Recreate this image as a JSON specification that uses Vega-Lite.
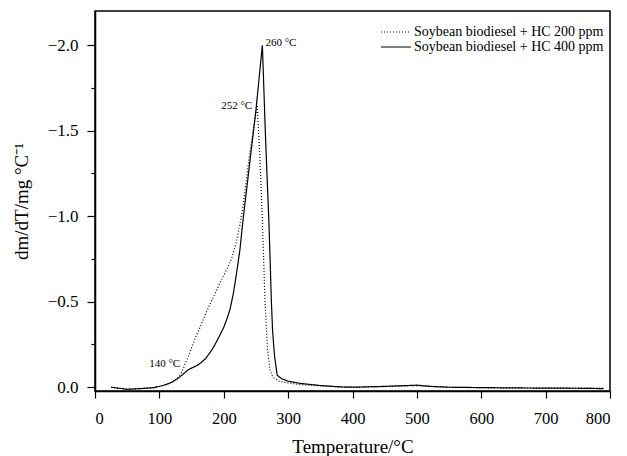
{
  "$schema": "https://vega.github.io/schema/vega-lite/v6.json",
  "width": 515,
  "height": 380,
  "autosize": {"type": "none"},
  "padding": {"left": 95, "top": 11, "right": 17, "bottom": 65},
  "background": "white",
  "config": {
    "font": "Liberation Serif",
    "view": {"stroke": "black", "strokeWidth": 1.5},
    "axis": {"domainColor": "black", "domainWidth": 1.5, "tickColor": "black", "tickWidth": 1.2, "labelColor": "black", "titleColor": "black", "grid": false, "labelFont": "Liberation Serif", "titleFont": "Liberation Serif", "titleFontWeight": "normal"},
    "legend": {"labelFont": "Liberation Serif"}
  },
  "datasets": {
    "curves": [
      {"s": "Soybean biodiesel + HC 200 ppm", "T": 25, "v": 0.0},
      {"s": "Soybean biodiesel + HC 200 ppm", "T": 35, "v": 0.005},
      {"s": "Soybean biodiesel + HC 200 ppm", "T": 50, "v": 0.012},
      {"s": "Soybean biodiesel + HC 200 ppm", "T": 70, "v": 0.008},
      {"s": "Soybean biodiesel + HC 200 ppm", "T": 90, "v": 0.003},
      {"s": "Soybean biodiesel + HC 200 ppm", "T": 100, "v": -0.005},
      {"s": "Soybean biodiesel + HC 200 ppm", "T": 110, "v": -0.015},
      {"s": "Soybean biodiesel + HC 200 ppm", "T": 120, "v": -0.03},
      {"s": "Soybean biodiesel + HC 200 ppm", "T": 130, "v": -0.06},
      {"s": "Soybean biodiesel + HC 200 ppm", "T": 135, "v": -0.09},
      {"s": "Soybean biodiesel + HC 200 ppm", "T": 145, "v": -0.18},
      {"s": "Soybean biodiesel + HC 200 ppm", "T": 155, "v": -0.28},
      {"s": "Soybean biodiesel + HC 200 ppm", "T": 162, "v": -0.34},
      {"s": "Soybean biodiesel + HC 200 ppm", "T": 172, "v": -0.43},
      {"s": "Soybean biodiesel + HC 200 ppm", "T": 183, "v": -0.52},
      {"s": "Soybean biodiesel + HC 200 ppm", "T": 198, "v": -0.64},
      {"s": "Soybean biodiesel + HC 200 ppm", "T": 206, "v": -0.7},
      {"s": "Soybean biodiesel + HC 200 ppm", "T": 212, "v": -0.75},
      {"s": "Soybean biodiesel + HC 200 ppm", "T": 219, "v": -0.84},
      {"s": "Soybean biodiesel + HC 200 ppm", "T": 225, "v": -0.95},
      {"s": "Soybean biodiesel + HC 200 ppm", "T": 230, "v": -1.06},
      {"s": "Soybean biodiesel + HC 200 ppm", "T": 240, "v": -1.36},
      {"s": "Soybean biodiesel + HC 200 ppm", "T": 252, "v": -1.65},
      {"s": "Soybean biodiesel + HC 200 ppm", "T": 256, "v": -1.35},
      {"s": "Soybean biodiesel + HC 200 ppm", "T": 260, "v": -0.98},
      {"s": "Soybean biodiesel + HC 200 ppm", "T": 264, "v": -0.51},
      {"s": "Soybean biodiesel + HC 200 ppm", "T": 268, "v": -0.22},
      {"s": "Soybean biodiesel + HC 200 ppm", "T": 272, "v": -0.1},
      {"s": "Soybean biodiesel + HC 200 ppm", "T": 276, "v": -0.06},
      {"s": "Soybean biodiesel + HC 200 ppm", "T": 286, "v": -0.035},
      {"s": "Soybean biodiesel + HC 200 ppm", "T": 300, "v": -0.025},
      {"s": "Soybean biodiesel + HC 200 ppm", "T": 317, "v": -0.016},
      {"s": "Soybean biodiesel + HC 200 ppm", "T": 350, "v": -0.008},
      {"s": "Soybean biodiesel + HC 200 ppm", "T": 400, "v": 0.0},
      {"s": "Soybean biodiesel + HC 200 ppm", "T": 450, "v": -0.004},
      {"s": "Soybean biodiesel + HC 200 ppm", "T": 500, "v": -0.01},
      {"s": "Soybean biodiesel + HC 200 ppm", "T": 550, "v": 0.0},
      {"s": "Soybean biodiesel + HC 200 ppm", "T": 600, "v": 0.003},
      {"s": "Soybean biodiesel + HC 200 ppm", "T": 700, "v": 0.005},
      {"s": "Soybean biodiesel + HC 200 ppm", "T": 790, "v": 0.005},
      {"s": "Soybean biodiesel + HC 400 ppm", "T": 25, "v": 0.0},
      {"s": "Soybean biodiesel + HC 400 ppm", "T": 35, "v": 0.005},
      {"s": "Soybean biodiesel + HC 400 ppm", "T": 50, "v": 0.012},
      {"s": "Soybean biodiesel + HC 400 ppm", "T": 70, "v": 0.008},
      {"s": "Soybean biodiesel + HC 400 ppm", "T": 90, "v": 0.003},
      {"s": "Soybean biodiesel + HC 400 ppm", "T": 100, "v": -0.005},
      {"s": "Soybean biodiesel + HC 400 ppm", "T": 110, "v": -0.015},
      {"s": "Soybean biodiesel + HC 400 ppm", "T": 120, "v": -0.03},
      {"s": "Soybean biodiesel + HC 400 ppm", "T": 130, "v": -0.055},
      {"s": "Soybean biodiesel + HC 400 ppm", "T": 138, "v": -0.08},
      {"s": "Soybean biodiesel + HC 400 ppm", "T": 144, "v": -0.1},
      {"s": "Soybean biodiesel + HC 400 ppm", "T": 150, "v": -0.112},
      {"s": "Soybean biodiesel + HC 400 ppm", "T": 160, "v": -0.13},
      {"s": "Soybean biodiesel + HC 400 ppm", "T": 165, "v": -0.145},
      {"s": "Soybean biodiesel + HC 400 ppm", "T": 172, "v": -0.168},
      {"s": "Soybean biodiesel + HC 400 ppm", "T": 180, "v": -0.21},
      {"s": "Soybean biodiesel + HC 400 ppm", "T": 185, "v": -0.24},
      {"s": "Soybean biodiesel + HC 400 ppm", "T": 190, "v": -0.275},
      {"s": "Soybean biodiesel + HC 400 ppm", "T": 200, "v": -0.35},
      {"s": "Soybean biodiesel + HC 400 ppm", "T": 205, "v": -0.4},
      {"s": "Soybean biodiesel + HC 400 ppm", "T": 210, "v": -0.46},
      {"s": "Soybean biodiesel + HC 400 ppm", "T": 215, "v": -0.55},
      {"s": "Soybean biodiesel + HC 400 ppm", "T": 220, "v": -0.67},
      {"s": "Soybean biodiesel + HC 400 ppm", "T": 225, "v": -0.8},
      {"s": "Soybean biodiesel + HC 400 ppm", "T": 230, "v": -0.98},
      {"s": "Soybean biodiesel + HC 400 ppm", "T": 240, "v": -1.3},
      {"s": "Soybean biodiesel + HC 400 ppm", "T": 250, "v": -1.62},
      {"s": "Soybean biodiesel + HC 400 ppm", "T": 260, "v": -2.0},
      {"s": "Soybean biodiesel + HC 400 ppm", "T": 265, "v": -1.45},
      {"s": "Soybean biodiesel + HC 400 ppm", "T": 270, "v": -0.98},
      {"s": "Soybean biodiesel + HC 400 ppm", "T": 272, "v": -0.75},
      {"s": "Soybean biodiesel + HC 400 ppm", "T": 274, "v": -0.5},
      {"s": "Soybean biodiesel + HC 400 ppm", "T": 276, "v": -0.32},
      {"s": "Soybean biodiesel + HC 400 ppm", "T": 279, "v": -0.18},
      {"s": "Soybean biodiesel + HC 400 ppm", "T": 283, "v": -0.07},
      {"s": "Soybean biodiesel + HC 400 ppm", "T": 290, "v": -0.05},
      {"s": "Soybean biodiesel + HC 400 ppm", "T": 300, "v": -0.035},
      {"s": "Soybean biodiesel + HC 400 ppm", "T": 320, "v": -0.022},
      {"s": "Soybean biodiesel + HC 400 ppm", "T": 350, "v": -0.01},
      {"s": "Soybean biodiesel + HC 400 ppm", "T": 380, "v": -0.002},
      {"s": "Soybean biodiesel + HC 400 ppm", "T": 400, "v": 0.0},
      {"s": "Soybean biodiesel + HC 400 ppm", "T": 450, "v": -0.005},
      {"s": "Soybean biodiesel + HC 400 ppm", "T": 500, "v": -0.012},
      {"s": "Soybean biodiesel + HC 400 ppm", "T": 520, "v": -0.005},
      {"s": "Soybean biodiesel + HC 400 ppm", "T": 550, "v": 0.0},
      {"s": "Soybean biodiesel + HC 400 ppm", "T": 600, "v": 0.002},
      {"s": "Soybean biodiesel + HC 400 ppm", "T": 650, "v": 0.004},
      {"s": "Soybean biodiesel + HC 400 ppm", "T": 700, "v": 0.005},
      {"s": "Soybean biodiesel + HC 400 ppm", "T": 750, "v": 0.006},
      {"s": "Soybean biodiesel + HC 400 ppm", "T": 790, "v": 0.008}
    ],
    "notesRight": [
      {"label": "252 °C", "T": 252, "v": -1.65},
      {"label": "140 °C", "T": 140, "v": -0.14}
    ],
    "notesLeft": [
      {"label": "260 °C", "T": 260, "v": -2.0}
    ]
  },
  "layer": [
    {
      "data": {"name": "curves"},
      "mark": {"type": "line", "color": "black", "strokeWidth": 1.2},
      "encoding": {
        "x": {"field": "T", "type": "quantitative",
          "scale": {"domain": [0, 800], "nice": false, "zero": false},
          "axis": {"orient": "bottom", "values": [0, 50, 100, 150, 200, 250, 300, 350, 400, 450, 500, 550, 600, 650, 700, 750, 800],
            "tickSize": {"condition": {"test": "datum.value % 100 === 0", "value": 7}, "value": 4},
            "labelExpr": "datum.value % 100 === 0 ? datum.label : ''",
            "labelFontSize": 16.5, "labelPadding": 12, "title": "Temperature/°C", "titleFontSize": 19, "titlePadding": 11}},
        "y": {"field": "v", "type": "quantitative",
          "scale": {"domain": [-2.2, 0.022], "nice": false, "zero": false, "reverse": true},
          "axis": {"orient": "left", "values": [-2.0, -1.75, -1.5, -1.25, -1.0, -0.75, -0.5, -0.25, 0.0], "format": ".1f",
            "tickSize": {"condition": {"test": "abs(datum.value * 2 - round(datum.value * 2)) < 0.001", "value": 8}, "value": 4},
            "labelExpr": "abs(datum.value * 2 - round(datum.value * 2)) < 0.001 ? datum.label : ''",
            "labelFontSize": 17, "labelPadding": 9, "title": "dm/dT/mg °C⁻¹", "titleFontSize": 19, "titlePadding": 16}},
        "strokeDash": {"field": "s", "type": "nominal",
          "scale": {"domain": ["Soybean biodiesel + HC 200 ppm", "Soybean biodiesel + HC 400 ppm"], "range": [[1, 2], [1, 0]]},
          "legend": {"title": null, "orient": "none", "legendX": 294, "legendY": 14, "padding": 0, "symbolType": "M-2.5,0H2.5", "symbolSize": 144, "symbolStrokeColor": "black", "symbolStrokeWidth": 1, "symbolFillColor": "transparent", "labelFontSize": 14, "labelOffset": 11, "labelLimit": 0, "rowPadding": 1}}
      }
    },
    {
      "data": {"name": "notesRight"},
      "mark": {"type": "text", "align": "right", "baseline": "middle", "dx": -5, "dy": 1, "fontSize": 11, "color": "black"},
      "encoding": {
        "x": {"field": "T", "type": "quantitative"},
        "y": {"field": "v", "type": "quantitative"},
        "text": {"field": "label"}
      }
    },
    {
      "data": {"name": "notesLeft"},
      "mark": {"type": "text", "align": "left", "baseline": "middle", "dx": 3, "dy": -2, "fontSize": 11, "color": "black"},
      "encoding": {
        "x": {"field": "T", "type": "quantitative"},
        "y": {"field": "v", "type": "quantitative"},
        "text": {"field": "label"}
      }
    }
  ]
}
